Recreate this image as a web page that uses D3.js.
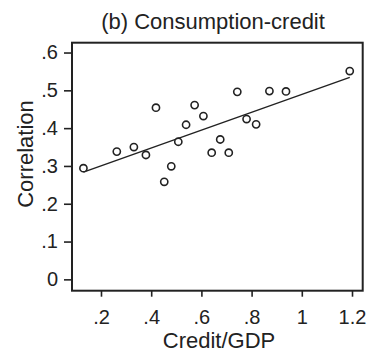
<!DOCTYPE html>
<meta charset="utf-8">
<script src="https://cdn.jsdelivr.net/npm/d3@7"></script>
<style>
	body{margin:0;background:#fff;font-family:"Liberation Sans",Arial,sans-serif;}
</style>
<div id="chart"></div>
<script>
// credit/GDP and correlation per country
var creditGdp = [0.13,0.263,0.331,0.379,0.419,0.452,0.48,0.508,0.539,0.573,
	0.608,0.641,0.675,0.709,0.743,0.78,0.818,0.871,0.937,1.191]
var correlation = [0.294,0.338,0.35,0.329,0.454,0.258,0.299,0.364,0.409,0.461,
	0.432,0.335,0.37,0.335,0.496,0.424,0.41,0.498,0.497,0.551]
var xTicks = [0.2,0.4,0.6,0.8,1,1.2]
var xTickLabels = [".2",".4",".6",".8","1","1.2"]
var yTicks = [0,0.1,0.2,0.3,0.4,0.5,0.6]
var yTickLabels = ["0",".1",".2",".3",".4",".5",".6"]

var width = 368
var height = 353
var margin = {left:72, right:5.3, top:42.7, bottom:62.3}
var ink = "#222"

var svg = d3.select("#chart").append("svg")
	.attr("width",width).attr("height",height)

var x = d3.scaleLinear().domain([0.0845,1.2426]).range([margin.left,width-margin.right])
var y = d3.scaleLinear().domain([-0.030,0.626]).range([height-margin.bottom,margin.top])

// x axis
svg.append("g")
	.attr("transform","translate(0,"+(height-margin.bottom)+")")
	.call(d3.axisBottom(x).tickValues(xTicks).tickSize(6).tickPadding(13)
		.tickFormat(function(d,i){return xTickLabels[i]}))
// y axis
svg.append("g")
	.attr("transform","translate("+margin.left+",0)")
	.call(d3.axisLeft(y).tickValues(yTicks).tickSize(8).tickPadding(6)
		.tickFormat(function(d,i){return yTickLabels[i]}))

svg.selectAll(".domain").remove()
svg.selectAll(".tick line").attr("stroke",ink).attr("stroke-width",1.6)
svg.selectAll(".tick text").attr("fill",ink)
	.style("font-family","Liberation Sans, Arial, sans-serif").style("font-size","20px")

// frame
svg.append("rect")
	.attr("x",margin.left).attr("y",margin.top)
	.attr("width",width-margin.left-margin.right)
	.attr("height",height-margin.top-margin.bottom)
	.attr("fill","none").attr("stroke",ink).attr("stroke-width",2)

// fitted line (least squares on the points)
var n = creditGdp.length
var mx = d3.mean(creditGdp), my = d3.mean(correlation)
var sxy = 0, sxx = 0
for(var i=0;i<n;i++){
	sxy += (creditGdp[i]-mx)*(correlation[i]-my)
	sxx += (creditGdp[i]-mx)*(creditGdp[i]-mx)
}
var slope = sxy/sxx, icept = my-slope*mx
var x0 = d3.min(creditGdp), x1 = d3.max(creditGdp)
svg.append("line")
	.attr("x1",x(x0)).attr("y1",y(icept+slope*x0))
	.attr("x2",x(x1)).attr("y2",y(icept+slope*x1))
	.attr("stroke",ink).attr("stroke-width",1.4)

// points
svg.append("g").selectAll("circle")
	.data(creditGdp)
	.enter()
	.append("circle")
	.attr("cx",function(d){return x(d)})
	.attr("cy",function(d,i){return y(correlation[i])})
	.attr("r",3.6)
	.attr("fill","#fff")
	.attr("stroke",ink)
	.attr("stroke-width",1.6)

// title and axis titles
svg.append("text")
	.attr("x",213).attr("y",29)
	.attr("text-anchor","middle").attr("fill",ink)
	.style("font-size","22px")
	.text("(b) Consumption-credit")
svg.append("text")
	.attr("x",219).attr("y",348)
	.attr("text-anchor","middle").attr("fill",ink)
	.style("font-size","22px")
	.text("Credit/GDP")
svg.append("text")
	.attr("transform","translate(33,154) rotate(-90)")
	.attr("text-anchor","middle").attr("fill",ink)
	.style("font-size","22px")
	.text("Correlation")
</script>
